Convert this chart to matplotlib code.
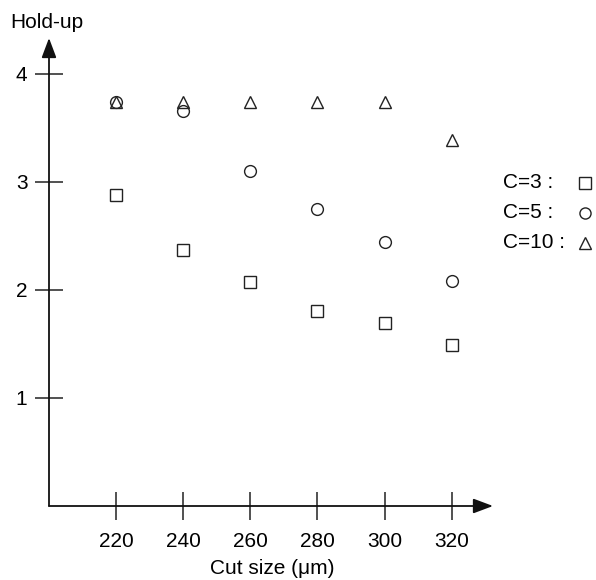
import matplotlib
matplotlib.use("Agg")
import matplotlib.pyplot as plt

plt.rcParams['font.family'] = ['Liberation Sans', 'DejaVu Sans']

# cut size (um)
cut_size = [220, 240, 260, 280, 300, 320]
# hold-up for each C
hold_c3 = [2.88, 2.37, 2.07, 1.80, 1.69, 1.49]
hold_c5 = [3.74, 3.65, 3.10, 2.75, 2.44, 2.08]
hold_c10 = [3.74, 3.74, 3.74, 3.74, 3.74, 3.39]
y_ticks = [1, 2, 3, 4]
legend_labels = ["C=3 :", "C=5 :", "C=10 :"]

FS = 15

fig = plt.figure(figsize=(5.96, 5.8), dpi=100)
# y axis at x=49px, x axis at y=506px, arrow tips at x=493px / y=38px
ax = fig.add_axes([49 / 596, 74 / 580, 444 / 596, 468 / 580])

ax.set_xlim(200, 332.3)
ax.set_ylim(0, 4.33)

mk = dict(linestyle="none", markerfacecolor="none", markeredgecolor="#222222",
          markeredgewidth=1.0, clip_on=False)
ax.plot(cut_size, hold_c3, marker="s", markersize=8, **mk)
ax.plot(cut_size, hold_c5, marker="o", markersize=8.5, **mk)
ax.plot(cut_size, hold_c10, marker="^", markersize=8, **mk)

for s in ax.spines.values():
    s.set_visible(False)

# axes with arrow heads
arrow = dict(arrowstyle="-|>,head_length=1.2,head_width=0.45",
             color="#111111", lw=1.3, shrinkA=0, shrinkB=0)
ax.annotate("", xy=(1.0, 0), xytext=(0, 0), xycoords="axes fraction", arrowprops=arrow)
ax.annotate("", xy=(0, 1.0), xytext=(0, 0), xycoords="axes fraction", arrowprops=arrow)

ax.set_xticks(cut_size)
ax.set_yticks(y_ticks)
ax.tick_params(axis="both", direction="inout", length=20, width=1.1,
               color="#222222", labelsize=FS)
ax.tick_params(axis="x", pad=8.5)
ax.tick_params(axis="y", pad=5.5)

fig.text(10 / 596, 1 - 28 / 580, "Hold-up", fontsize=FS, ha="left", va="baseline")
fig.text(272 / 596, 1 - 569 / 580, "Cut size (\u03bcm)", fontsize=FS, ha="center", va="center")

# legend
leg_markers = ["s", "o", "^"]
leg_y = [1 - 183 / 580, 1 - 213 / 580, 1 - 243 / 580]
for lab, m, yy in zip(legend_labels, leg_markers, leg_y):
    fig.text(503 / 596, yy, lab, fontsize=FS, ha="left", va="center")
    fig.lines.append(plt.Line2D([585 / 596], [yy], marker=m, markersize=8,
                                markerfacecolor="none", markeredgecolor="#222222",
                                markeredgewidth=1.0, linestyle="none",
                                transform=fig.transFigure))

fig.savefig("out.png", dpi=100)
